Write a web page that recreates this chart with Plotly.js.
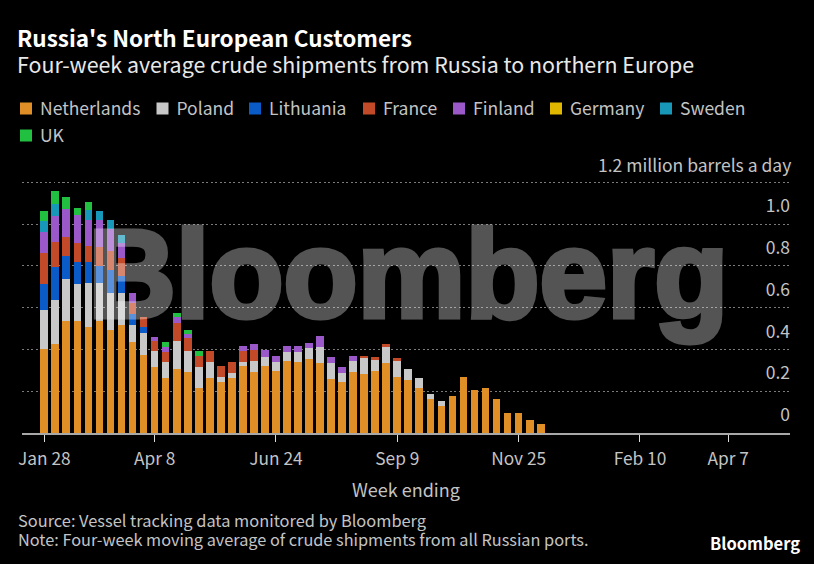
<!DOCTYPE html>
<html><head><meta charset="utf-8">
<script src="https://cdn.plot.ly/plotly-3.0.1.min.js"></script>
<style>html,body{margin:0;padding:0;background:#000}</style></head>
<body><div id="chart" style="width:814px;height:564px"></div>
<script>
const weeks = ["2022-01-28","2022-02-04","2022-02-11","2022-02-18","2022-02-25","2022-03-04","2022-03-11","2022-03-18","2022-03-25","2022-04-01","2022-04-08","2022-04-15","2022-04-22","2022-04-29","2022-05-06","2022-05-13","2022-05-20","2022-05-27","2022-06-03","2022-06-10","2022-06-17","2022-06-24","2022-07-01","2022-07-08","2022-07-15","2022-07-22","2022-07-29","2022-08-05","2022-08-12","2022-08-19","2022-08-26","2022-09-02","2022-09-09","2022-09-16","2022-09-23","2022-09-30","2022-10-07","2022-10-14","2022-10-21","2022-10-28","2022-11-04","2022-11-11","2022-11-18","2022-11-25","2022-12-02","2022-12-09"];
const netherlands = [.403,.427,.536,.536,.51,.536,.494,.517,.438,.374,.314,.264,.306,.294,.216,.264,.245,.264,.32,.294,.32,.296,.344,.338,.355,.336,.259,.242,.291,.283,.299,.336,.27,.256,.216,.163,.131,.179,.269,.208,.214,.162,.094,.094,.062,.045];
const poland = [.184,.21,.203,.178,.21,.184,.178,.154,.077,.106,.077,.078,.133,.101,.101,.077,.024,.022,.022,.053,.045,.046,.045,.051,.051,.077,.075,.045,.056,.075,.053,.077,.077,.05,.048,.022,.024,0,0,0,0,0,0,0,0,0];
const lithuania = [.128,.157,.11,.104,.101,.078,.109,.08,.056,.026,0,0,0,0,0,0,0,0,0,0,0,0,0,0,0,0,0,0,0,0,0,0,0,0,0,0,0,0,0,0,0,0,0,0,0,0];
const france = [.146,.12,.09,.093,.074,.093,.091,.086,.053,.048,.048,.048,.09,.058,.05,.05,.054,.054,.051,.05,0,0,0,0,0,0,0,0,0,.013,.014,.014,.013,0,0,0,0,0,0,0,0,0,0,0,0,0];
const finland = [.102,.126,.133,.131,.126,.128,.107,.074,.048,0,.022,.022,.027,.022,0,0,0,0,.026,.03,.032,.029,.03,.026,.026,.05,.032,.03,.024,0,0,0,0,0,0,0,0,0,0,0,0,0,0,0,0,0];
const germany = [0,0,0,0,0,0,0,0,0,0,0,0,0,0,0,0,0,0,0,0,0,0,0,0,0,0,0,0,0,0,0,0,0,0,0,0,0,0,0,0,0,0,0,0,0,0];
const sweden = [.053,.056,0,0,.045,.042,.04,.037,0,0,0,0,0,0,0,0,0,0,0,0,0,0,0,0,0,0,0,0,0,0,0,0,0,0,0,0,0,0,0,0,0,0,0,0,0,0];
const uk = [.045,.061,.06,.037,.038,0,0,0,0,0,0,.026,.021,.018,.024,0,0,0,0,0,0,0,0,0,0,0,0,0,0,0,0,0,0,0,0,0,0,0,0,0,0,0,0,0,0,0];

const countries = ["Netherlands","Poland","Lithuania","France","Finland","Germany","Sweden","UK"];
const seriesValues = [netherlands,poland,lithuania,france,finland,germany,sweden,uk];
const colors = ["#e08f27","#c8c8c8","#0a5ac8","#c24a28","#9a58c8","#e0b800","#1898b8","#22c040"];
const xTickVals = ["2022-01-28","2022-04-08","2022-06-24","2022-09-09","2022-11-25","2023-02-10","2023-04-07"];
const xTickText = ["Jan 28","Apr 8","Jun 24","Sep 9","Nov 25","Feb 10","Apr 7"];
const yTickVals = [0,0.2,0.4,0.6,0.8,1.0,1.2];
const yTickText = ["0","0.2","0.4","0.6","0.8","1.0",""];
const yTopLabel = "1.2 million barrels a day";

const weekNo = d => Math.round((Date.parse(d+"T00:00:00Z")-Date.parse(weeks[0]+"T00:00:00Z"))/(7*864e5));
const FONT = '"Noto Sans CJK SC","Noto Sans",sans-serif';
const legendPx = [[0,108.5],[136.5,108.5],[229,108.5],[343,108.5],[433,108.5],[530,108.5],[640,108.5],[0,135.5]];
const layout = {
  width:814, height:564, paper_bgcolor:"#000", plot_bgcolor:"#000",
  font:{family:FONT,color:"#c4c4c4",size:17},
  barmode:"stack", bargap:0.3,
  margin:{l:22,r:24,t:172.25,b:130.5,pad:0},
  title:{text:"<b>Russia's North European Customers</b>",x:17/814,xanchor:"left",xref:"container",
         y:1-39/564,yref:"container",yanchor:"middle",font:{family:FONT,size:22.5,color:"#fff"}},
  xaxis:{type:"linear",range:[-2.02,67.6],tickmode:"array",tickvals:xTickVals.map(weekNo),ticktext:xTickText,
         ticks:"outside",ticklen:7,tickwidth:1,tickcolor:"#ddd",showgrid:false,zeroline:false,
         showline:true,linecolor:"#a8a8a8",linewidth:2,tickfont:{size:17.3,color:"#c4c4c4"},ticklabelstandoff:2,
         title:{text:"Week ending",font:{size:18,color:"#c4c4c4"},standoff:16}},
  yaxis:{range:[0,1.25],side:"right",tickmode:"array",tickvals:yTickVals,ticktext:yTickText,
         ticklabelposition:"inside",ticklabelshift:-18,ticklabelstandoff:-3,ticks:"",showgrid:true,gridcolor:"#7a7a7a",griddash:"2px,2.5px",gridwidth:1.2,
         zeroline:false,showline:false,tickfont:{size:17.5,color:"#c4c4c4"}},
  annotations:[
    {text:"Four-week average crude shipments from Russia to northern Europe",xref:"paper",yref:"paper",x:0,y:1,
     xshift:-7,yshift:109,xanchor:"left",yanchor:"middle",showarrow:false,font:{size:21.4,color:"#e8e8e8"}},
    {text:"Bloomberg",xref:"paper",yref:"paper",x:0.5,y:0.5,xshift:1.5,yshift:29,showarrow:false,opacity:0.33,
     font:{family:'"Liberation Sans",sans-serif',weight:700,size:124,color:"#fff"}},
    {text:yTopLabel,xref:"paper",yref:"y",x:1,y:1.2,xanchor:"right",yanchor:"middle",xshift:3,yshift:18,showarrow:false,
     font:{size:17.5,color:"#c4c4c4"}},
    {text:"Source: Vessel tracking data monitored by Bloomberg",
     xref:"paper",yref:"paper",x:0,y:0,xshift:-6,yshift:-87,xanchor:"left",yanchor:"middle",align:"left",showarrow:false,
     font:{size:16.4,color:"#c4c4c4"}},
    {text:"Note: Four-week moving average of crude shipments from all Russian ports.",
     xref:"paper",yref:"paper",x:0,y:0,xshift:-6,yshift:-106,xanchor:"left",yanchor:"middle",align:"left",showarrow:false,
     font:{size:16.3,color:"#c4c4c4"}},
    {text:"<b>Bloomberg</b>",xref:"paper",yref:"paper",x:1,y:0,xshift:12,yshift:-110,xanchor:"right",yanchor:"middle",showarrow:false,
     font:{size:16.5,color:"#fff"}}
  ]
};
const traces = countries.map((name,i)=>{
  const key = i===0 ? "legend" : "legend"+(i+1);
  layout[key] = {xref:"container",yref:"container",x:legendPx[i][0]/814,y:1-legendPx[i][1]/564,xanchor:"left",yanchor:"middle",
    orientation:"h",bgcolor:"rgba(0,0,0,0)",font:{size:17.5,color:"#c4c4c4"}};
  return {type:"bar",name,x:weeks.map(weekNo),y:seriesValues[i],marker:{color:colors[i],line:{width:0}},legend:key,showlegend:true};
});
Plotly.newPlot("chart",traces,layout,{displayModeBar:false}).then(()=>{
  document.querySelectorAll(".legendsymbols").forEach(g=>g.setAttribute("transform","translate(6,0)"));
  const wm = document.querySelectorAll(".annotation-text")[1];
  wm.setAttribute("textLength","640");
  wm.setAttribute("lengthAdjust","spacingAndGlyphs");
  wm.style.stroke="#fff"; wm.style.strokeWidth="5px";
});
</script></body></html>
